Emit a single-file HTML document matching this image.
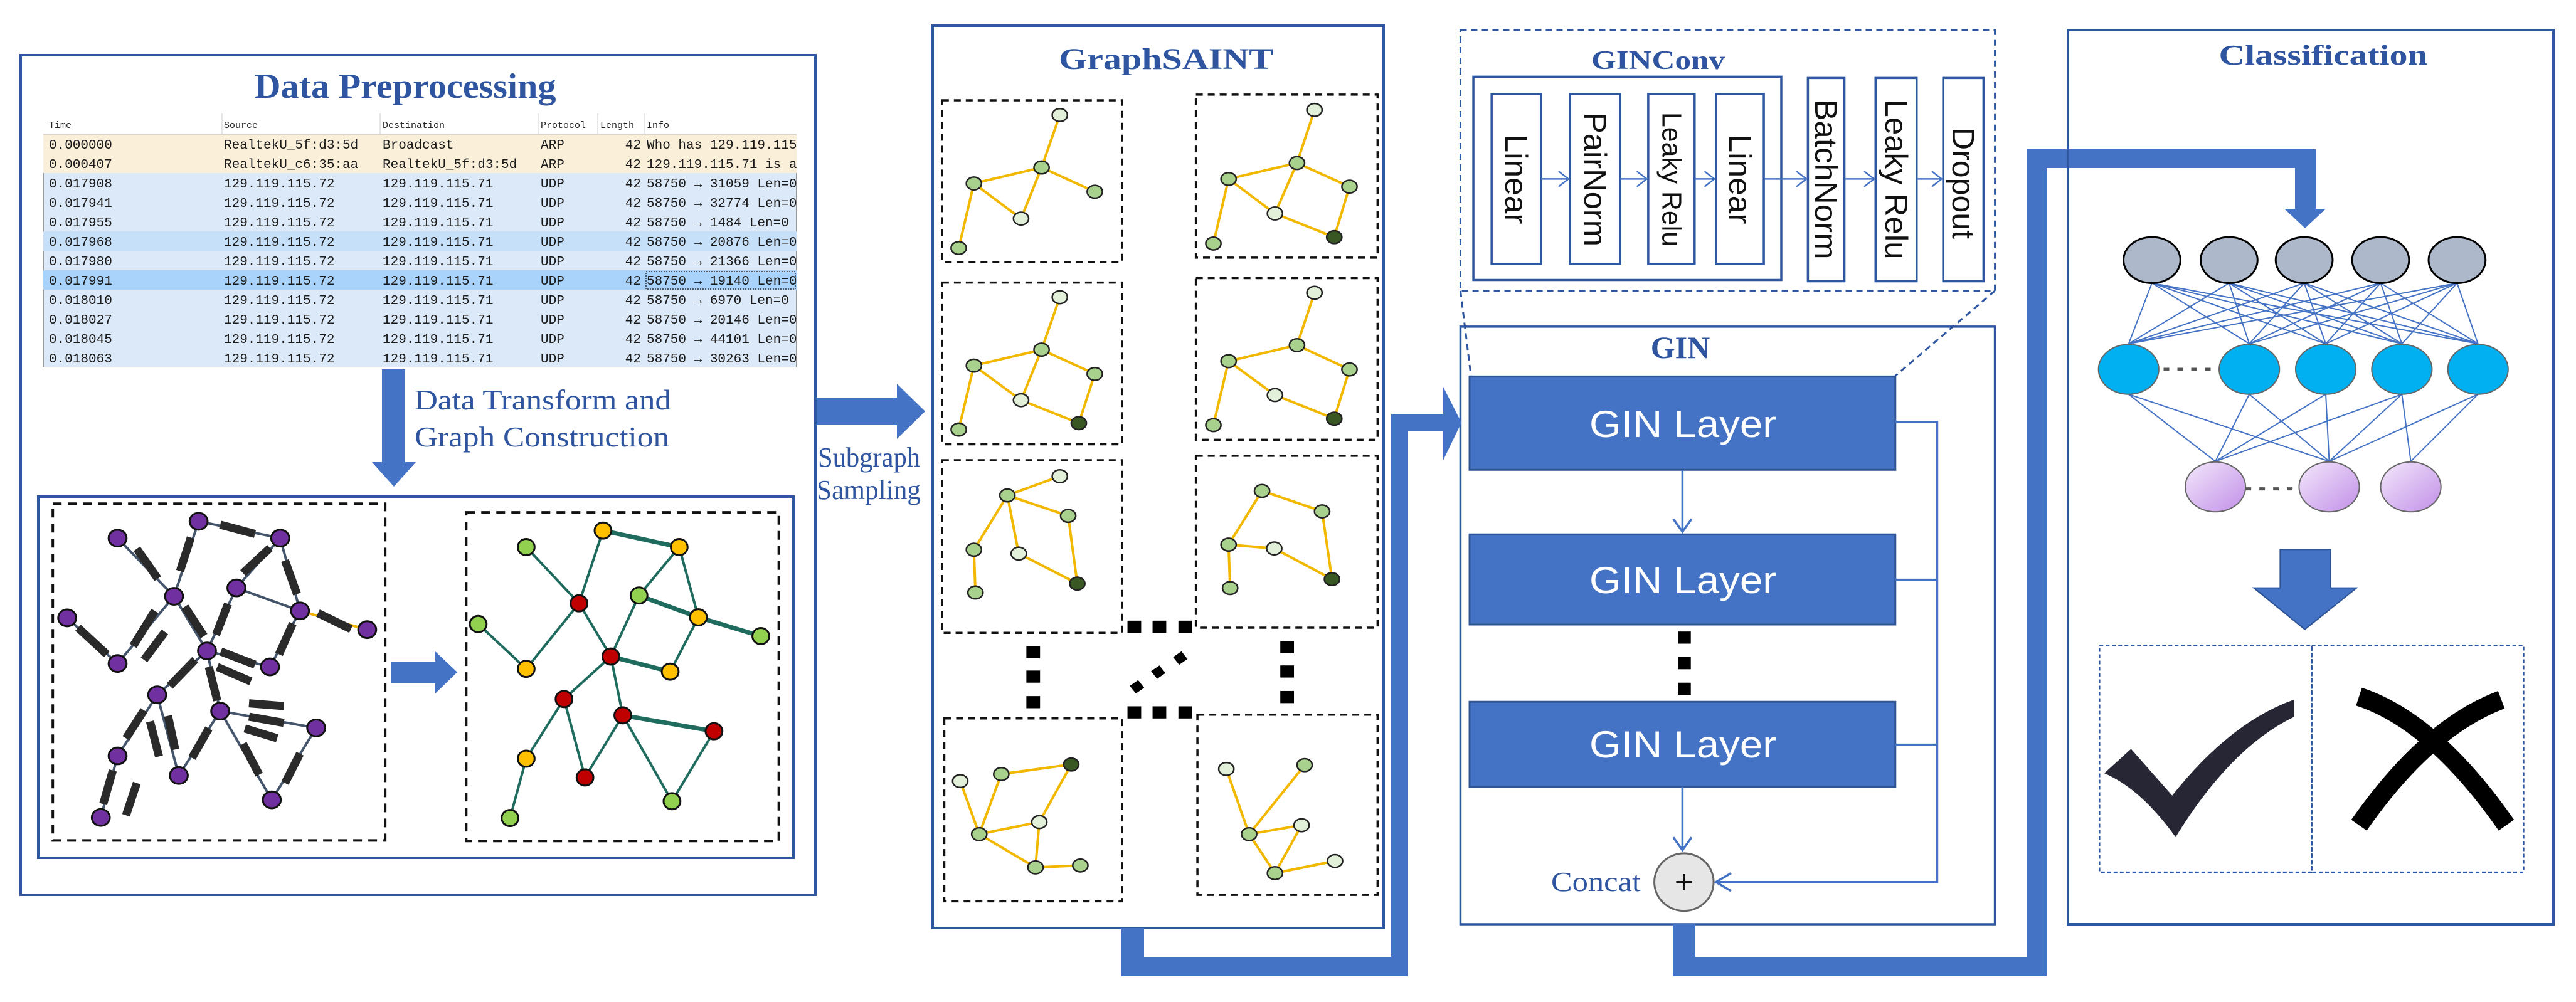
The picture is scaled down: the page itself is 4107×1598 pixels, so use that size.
<!DOCTYPE html>
<html><head><meta charset="utf-8"><style>
html,body{margin:0;padding:0;background:#fff;}
svg{display:block;}
.ser{font-family:"Liberation Serif",serif;}
.sans{font-family:"Liberation Sans",sans-serif;}
.mono{font-family:"Liberation Mono",monospace;}
</style></head><body>
<svg width="4107" height="1598" viewBox="0 0 4107 1598" xmlns="http://www.w3.org/2000/svg">
<defs>
<clipPath id="tc"><rect x="69" y="181" width="1201" height="405"/></clipPath>
<linearGradient id="pg" x1="0" y1="0" x2="1" y2="1"><stop offset="0" stop-color="#f3e8fb"/><stop offset="1" stop-color="#c28fe8"/></linearGradient>
</defs>

<!-- ===== Data Preprocessing ===== -->
<rect x="33" y="88" width="1267" height="1339" fill="none" stroke="#2f56a0" stroke-width="4"/>
<text x="646" y="156" class="ser" font-size="56" font-weight="bold" fill="#2f55a0" text-anchor="middle" textLength="481" lengthAdjust="spacingAndGlyphs">Data Preprocessing</text>

<g clip-path="url(#tc)">
<rect x="69" y="181" width="1201" height="405" fill="#dce9f8" stroke="#999" stroke-width="2"/>
<rect x="69" y="181" width="1201" height="33" fill="#fff"/>
<rect x="69" y="214" width="1201" height="62" fill="#faefd9"/>
<rect x="69" y="369" width="1201" height="31" fill="#c6e0fa"/>
<rect x="69" y="431" width="1201" height="31" fill="#a9d3fa"/>
<line x1="69" y1="214" x2="1270" y2="214" stroke="#bbb" stroke-width="1"/>
<g stroke="#ccc" stroke-width="1"><line x1="354" y1="181" x2="354" y2="214"/><line x1="606" y1="181" x2="606" y2="214"/><line x1="858" y1="181" x2="858" y2="214"/><line x1="953" y1="181" x2="953" y2="214"/><line x1="1027" y1="181" x2="1027" y2="214"/></g>
<g class="mono" font-size="15" fill="#222">
<text x="78" y="204">Time</text><text x="357" y="204">Source</text><text x="610" y="204">Destination</text><text x="862" y="204">Protocol</text><text x="957" y="204">Length</text><text x="1031" y="204">Info</text>
</g>
<g class="mono" font-size="21" fill="#1a1a1a">
<text x="78" y="237">0.000000</text><text x="357" y="237">RealtekU_5f:d3:5d</text><text x="610" y="237">Broadcast</text><text x="862" y="237">ARP</text><text x="1022" y="237" text-anchor="end">42</text><text x="1031" y="237">Who has 129.119.115.</text>
<text x="78" y="268">0.000407</text><text x="357" y="268">RealtekU_c6:35:aa</text><text x="610" y="268">RealtekU_5f:d3:5d</text><text x="862" y="268">ARP</text><text x="1022" y="268" text-anchor="end">42</text><text x="1031" y="268">129.119.115.71 is at</text>
<text x="78" y="299">0.017908</text><text x="357" y="299">129.119.115.72</text><text x="610" y="299">129.119.115.71</text><text x="862" y="299">UDP</text><text x="1022" y="299" text-anchor="end">42</text><text x="1031" y="299">58750 → 31059 Len=0</text>
<text x="78" y="330">0.017941</text><text x="357" y="330">129.119.115.72</text><text x="610" y="330">129.119.115.71</text><text x="862" y="330">UDP</text><text x="1022" y="330" text-anchor="end">42</text><text x="1031" y="330">58750 → 32774 Len=0</text>
<text x="78" y="361">0.017955</text><text x="357" y="361">129.119.115.72</text><text x="610" y="361">129.119.115.71</text><text x="862" y="361">UDP</text><text x="1022" y="361" text-anchor="end">42</text><text x="1031" y="361">58750 → 1484 Len=0</text>
<text x="78" y="392">0.017968</text><text x="357" y="392">129.119.115.72</text><text x="610" y="392">129.119.115.71</text><text x="862" y="392">UDP</text><text x="1022" y="392" text-anchor="end">42</text><text x="1031" y="392">58750 → 20876 Len=0</text>
<text x="78" y="423">0.017980</text><text x="357" y="423">129.119.115.72</text><text x="610" y="423">129.119.115.71</text><text x="862" y="423">UDP</text><text x="1022" y="423" text-anchor="end">42</text><text x="1031" y="423">58750 → 21366 Len=0</text>
<text x="78" y="454">0.017991</text><text x="357" y="454">129.119.115.72</text><text x="610" y="454">129.119.115.71</text><text x="862" y="454">UDP</text><text x="1022" y="454" text-anchor="end">42</text><text x="1031" y="454">58750 → 19140 Len=0</text>
<text x="78" y="485">0.018010</text><text x="357" y="485">129.119.115.72</text><text x="610" y="485">129.119.115.71</text><text x="862" y="485">UDP</text><text x="1022" y="485" text-anchor="end">42</text><text x="1031" y="485">58750 → 6970 Len=0</text>
<text x="78" y="516">0.018027</text><text x="357" y="516">129.119.115.72</text><text x="610" y="516">129.119.115.71</text><text x="862" y="516">UDP</text><text x="1022" y="516" text-anchor="end">42</text><text x="1031" y="516">58750 → 20146 Len=0</text>
<text x="78" y="547">0.018045</text><text x="357" y="547">129.119.115.72</text><text x="610" y="547">129.119.115.71</text><text x="862" y="547">UDP</text><text x="1022" y="547" text-anchor="end">42</text><text x="1031" y="547">58750 → 44101 Len=0</text>
<text x="78" y="578">0.018063</text><text x="357" y="578">129.119.115.72</text><text x="610" y="578">129.119.115.71</text><text x="862" y="578">UDP</text><text x="1022" y="578" text-anchor="end">42</text><text x="1031" y="578">58750 → 30263 Len=0</text>
</g>
<rect x="1030" y="433" width="238" height="28" fill="none" stroke="#333" stroke-width="1.5" stroke-dasharray="2 2"/>
</g>

<!-- down arrow -->
<rect x="609" y="589" width="37" height="150" fill="#4472c4"/>
<polygon points="593,737 663,737 628,776" fill="#4472c4"/>
<text x="661" y="653" class="ser" font-size="46" fill="#2f55a0" textLength="409" lengthAdjust="spacingAndGlyphs">Data Transform and</text>
<text x="661" y="712" class="ser" font-size="46" fill="#2f55a0" textLength="406" lengthAdjust="spacingAndGlyphs">Graph Construction</text>

<!-- inner graph box -->
<rect x="61" y="792" width="1204" height="576" fill="none" stroke="#2f56a0" stroke-width="4"/>
<g transform="translate(0,760) scale(0.9566,0.4464)">
<rect x="88" y="97" width="554" height="1203" fill="none" stroke="#111" stroke-width="4" stroke-dasharray="14 10" vector-effect="non-scaling-stroke"/>
<rect x="777" y="128" width="521" height="1174" fill="none" stroke="#111" stroke-width="4" stroke-dasharray="14 10" vector-effect="non-scaling-stroke"/>
<g stroke="#44546a" stroke-width="4" vector-effect="non-scaling-stroke" fill="none">
<line x1="331" y1="160" x2="467" y2="220" vector-effect="non-scaling-stroke"/>
<line x1="196" y1="220" x2="290" y2="428" vector-effect="non-scaling-stroke"/>
<line x1="331" y1="160" x2="290" y2="428" vector-effect="non-scaling-stroke"/>
<line x1="467" y1="220" x2="394" y2="398" vector-effect="non-scaling-stroke"/>
<line x1="467" y1="220" x2="500" y2="480" vector-effect="non-scaling-stroke"/>
<line x1="394" y1="398" x2="500" y2="480" vector-effect="non-scaling-stroke"/>
<line x1="290" y1="428" x2="345" y2="623" vector-effect="non-scaling-stroke"/>
<line x1="394" y1="398" x2="345" y2="623" vector-effect="non-scaling-stroke"/>
<line x1="500" y1="480" x2="450" y2="680" vector-effect="non-scaling-stroke"/>
<line x1="112" y1="505" x2="196" y2="668" vector-effect="non-scaling-stroke"/>
<line x1="290" y1="428" x2="196" y2="668" vector-effect="non-scaling-stroke"/>
<line x1="345" y1="623" x2="450" y2="680" vector-effect="non-scaling-stroke"/>
<line x1="345" y1="623" x2="262" y2="780" vector-effect="non-scaling-stroke"/>
<line x1="345" y1="623" x2="367" y2="838" vector-effect="non-scaling-stroke"/>
<line x1="262" y1="780" x2="196" y2="998" vector-effect="non-scaling-stroke"/>
<line x1="262" y1="780" x2="298" y2="1068" vector-effect="non-scaling-stroke"/>
<line x1="367" y1="838" x2="298" y2="1068" vector-effect="non-scaling-stroke"/>
<line x1="367" y1="838" x2="527" y2="898" vector-effect="non-scaling-stroke"/>
<line x1="367" y1="838" x2="453" y2="1155" vector-effect="non-scaling-stroke"/>
<line x1="527" y1="898" x2="453" y2="1155" vector-effect="non-scaling-stroke"/>
<line x1="196" y1="998" x2="168" y2="1218" vector-effect="non-scaling-stroke"/>
</g>
<line x1="500" y1="480" x2="612" y2="547" stroke="#f0b400" stroke-width="4" vector-effect="non-scaling-stroke"/>
<g stroke="#2a2a2a" stroke-width="13" vector-effect="non-scaling-stroke">
<line x1="367" y1="172" x2="425" y2="205" vector-effect="non-scaling-stroke"/>
<line x1="228" y1="258" x2="263" y2="365" vector-effect="non-scaling-stroke"/>
<line x1="318" y1="218" x2="300" y2="338" vector-effect="non-scaling-stroke"/>
<line x1="450" y1="255" x2="405" y2="345" vector-effect="non-scaling-stroke"/>
<line x1="475" y1="300" x2="495" y2="420" vector-effect="non-scaling-stroke"/>
<line x1="530" y1="488" x2="585" y2="545" vector-effect="non-scaling-stroke"/>
<line x1="380" y1="455" x2="360" y2="565" vector-effect="non-scaling-stroke"/>
<line x1="308" y1="465" x2="340" y2="570" vector-effect="non-scaling-stroke"/>
<line x1="488" y1="525" x2="465" y2="635" vector-effect="non-scaling-stroke"/>
<line x1="130" y1="540" x2="178" y2="635" vector-effect="non-scaling-stroke"/>
<line x1="258" y1="480" x2="222" y2="605" vector-effect="non-scaling-stroke"/>
<line x1="275" y1="555" x2="240" y2="655" vector-effect="non-scaling-stroke"/>
<line x1="368" y1="625" x2="425" y2="672" vector-effect="non-scaling-stroke"/>
<line x1="362" y1="680" x2="418" y2="732" vector-effect="non-scaling-stroke"/>
<line x1="325" y1="655" x2="283" y2="748" vector-effect="non-scaling-stroke"/>
<line x1="348" y1="680" x2="362" y2="800" vector-effect="non-scaling-stroke"/>
<line x1="240" y1="835" x2="210" y2="935" vector-effect="non-scaling-stroke"/>
<line x1="250" y1="875" x2="265" y2="1000" vector-effect="non-scaling-stroke"/>
<line x1="280" y1="855" x2="292" y2="975" vector-effect="non-scaling-stroke"/>
<line x1="348" y1="900" x2="320" y2="1005" vector-effect="non-scaling-stroke"/>
<line x1="415" y1="810" x2="473" y2="820" vector-effect="non-scaling-stroke"/>
<line x1="415" y1="858" x2="473" y2="880" vector-effect="non-scaling-stroke"/>
<line x1="408" y1="900" x2="462" y2="935" vector-effect="non-scaling-stroke"/>
<line x1="405" y1="955" x2="432" y2="1065" vector-effect="non-scaling-stroke"/>
<line x1="500" y1="990" x2="475" y2="1095" vector-effect="non-scaling-stroke"/>
<line x1="188" y1="1050" x2="172" y2="1170" vector-effect="non-scaling-stroke"/>
<line x1="228" y1="1095" x2="210" y2="1210" vector-effect="non-scaling-stroke"/>
</g>
<g fill="#7030a0" stroke="#111" stroke-width="3">
<ellipse cx="331" cy="160" rx="15" ry="30" vector-effect="non-scaling-stroke"/><ellipse cx="467" cy="220" rx="15" ry="30" vector-effect="non-scaling-stroke"/><ellipse cx="196" cy="220" rx="15" ry="30" vector-effect="non-scaling-stroke"/><ellipse cx="394" cy="398" rx="15" ry="30" vector-effect="non-scaling-stroke"/><ellipse cx="290" cy="428" rx="15" ry="30" vector-effect="non-scaling-stroke"/><ellipse cx="500" cy="480" rx="15" ry="30" vector-effect="non-scaling-stroke"/><ellipse cx="112" cy="505" rx="15" ry="30" vector-effect="non-scaling-stroke"/><ellipse cx="612" cy="547" rx="15" ry="30" vector-effect="non-scaling-stroke"/><ellipse cx="345" cy="623" rx="15" ry="30" vector-effect="non-scaling-stroke"/><ellipse cx="196" cy="668" rx="15" ry="30" vector-effect="non-scaling-stroke"/><ellipse cx="450" cy="680" rx="15" ry="30" vector-effect="non-scaling-stroke"/><ellipse cx="262" cy="780" rx="15" ry="30" vector-effect="non-scaling-stroke"/><ellipse cx="367" cy="838" rx="15" ry="30" vector-effect="non-scaling-stroke"/><ellipse cx="527" cy="898" rx="15" ry="30" vector-effect="non-scaling-stroke"/><ellipse cx="196" cy="998" rx="15" ry="30" vector-effect="non-scaling-stroke"/><ellipse cx="298" cy="1068" rx="15" ry="30" vector-effect="non-scaling-stroke"/><ellipse cx="453" cy="1155" rx="15" ry="30" vector-effect="non-scaling-stroke"/><ellipse cx="168" cy="1218" rx="15" ry="30" vector-effect="non-scaling-stroke"/>
</g>
<!-- right graph -->
<g stroke="#1f6b5e" stroke-width="4" fill="none">
<line x1="1005" y1="193" x2="1132" y2="252" stroke-width="7" vector-effect="non-scaling-stroke"/>
<line x1="1005" y1="193" x2="965" y2="453" vector-effect="non-scaling-stroke"/>
<line x1="877" y1="252" x2="965" y2="453" vector-effect="non-scaling-stroke"/>
<line x1="1132" y1="252" x2="1065" y2="425" vector-effect="non-scaling-stroke"/>
<line x1="1132" y1="252" x2="1164" y2="503" vector-effect="non-scaling-stroke"/>
<line x1="1065" y1="425" x2="1164" y2="503" stroke-width="7" vector-effect="non-scaling-stroke"/>
<line x1="1065" y1="425" x2="1018" y2="643" vector-effect="non-scaling-stroke"/>
<line x1="965" y1="453" x2="1018" y2="643" vector-effect="non-scaling-stroke"/>
<line x1="965" y1="453" x2="877" y2="687" vector-effect="non-scaling-stroke"/>
<line x1="797" y1="527" x2="877" y2="687" vector-effect="non-scaling-stroke"/>
<line x1="1164" y1="503" x2="1268" y2="570" stroke-width="7" vector-effect="non-scaling-stroke"/>
<line x1="1164" y1="503" x2="1117" y2="697" vector-effect="non-scaling-stroke"/>
<line x1="1018" y1="643" x2="1117" y2="697" stroke-width="7" vector-effect="non-scaling-stroke"/>
<line x1="1018" y1="643" x2="940" y2="795" vector-effect="non-scaling-stroke"/>
<line x1="1018" y1="643" x2="1038" y2="853" vector-effect="non-scaling-stroke"/>
<line x1="940" y1="795" x2="877" y2="1008" vector-effect="non-scaling-stroke"/>
<line x1="940" y1="795" x2="975" y2="1075" vector-effect="non-scaling-stroke"/>
<line x1="1038" y1="853" x2="975" y2="1075" vector-effect="non-scaling-stroke"/>
<line x1="1038" y1="853" x2="1190" y2="910" stroke-width="7" vector-effect="non-scaling-stroke"/>
<line x1="1038" y1="853" x2="1120" y2="1160" vector-effect="non-scaling-stroke"/>
<line x1="1190" y1="910" x2="1120" y2="1160" vector-effect="non-scaling-stroke"/>
<line x1="877" y1="1008" x2="850" y2="1220" vector-effect="non-scaling-stroke"/>
</g>
<g stroke="#111" stroke-width="3">
<ellipse cx="1005" cy="193" rx="14" ry="29" fill="#ffc000" vector-effect="non-scaling-stroke"/>
<ellipse cx="877" cy="252" rx="14" ry="29" fill="#92d050" vector-effect="non-scaling-stroke"/>
<ellipse cx="1132" cy="252" rx="14" ry="29" fill="#ffc000" vector-effect="non-scaling-stroke"/>
<ellipse cx="1065" cy="425" rx="14" ry="29" fill="#92d050" vector-effect="non-scaling-stroke"/>
<ellipse cx="965" cy="453" rx="14" ry="29" fill="#c00000" vector-effect="non-scaling-stroke"/>
<ellipse cx="797" cy="527" rx="14" ry="29" fill="#92d050" vector-effect="non-scaling-stroke"/>
<ellipse cx="1164" cy="503" rx="14" ry="29" fill="#ffc000" vector-effect="non-scaling-stroke"/>
<ellipse cx="1268" cy="570" rx="14" ry="29" fill="#92d050" vector-effect="non-scaling-stroke"/>
<ellipse cx="1018" cy="643" rx="14" ry="29" fill="#c00000" vector-effect="non-scaling-stroke"/>
<ellipse cx="877" cy="687" rx="14" ry="29" fill="#ffc000" vector-effect="non-scaling-stroke"/>
<ellipse cx="1117" cy="697" rx="14" ry="29" fill="#ffc000" vector-effect="non-scaling-stroke"/>
<ellipse cx="940" cy="795" rx="14" ry="29" fill="#c00000" vector-effect="non-scaling-stroke"/>
<ellipse cx="1038" cy="853" rx="14" ry="29" fill="#c00000" vector-effect="non-scaling-stroke"/>
<ellipse cx="1190" cy="910" rx="14" ry="29" fill="#c00000" vector-effect="non-scaling-stroke"/>
<ellipse cx="877" cy="1008" rx="14" ry="29" fill="#ffc000" vector-effect="non-scaling-stroke"/>
<ellipse cx="975" cy="1075" rx="14" ry="29" fill="#c00000" vector-effect="non-scaling-stroke"/>
<ellipse cx="1120" cy="1160" rx="14" ry="29" fill="#92d050" vector-effect="non-scaling-stroke"/>
<ellipse cx="850" cy="1220" rx="14" ry="29" fill="#92d050" vector-effect="non-scaling-stroke"/>
</g>
</g>
<!-- arrow between graphs -->
<rect x="624" y="1055" width="72" height="35" fill="#4472c4"/>
<polygon points="694,1039 729,1072 694,1106" fill="#4472c4"/>

<!-- subgraph sampling arrow -->
<rect x="1302" y="634" width="132" height="44" fill="#4472c4"/>
<polygon points="1430,612 1475,656 1430,700" fill="#4472c4"/>
<text x="1304" y="744" class="ser" font-size="44" fill="#2f55a0" textLength="163" lengthAdjust="spacingAndGlyphs">Subgraph</text>
<text x="1302" y="796" class="ser" font-size="44" fill="#2f55a0" textLength="166" lengthAdjust="spacingAndGlyphs">Sampling</text>

<!-- ===== GraphSAINT ===== -->
<rect x="1487" y="41" width="719" height="1439" fill="none" stroke="#2f56a0" stroke-width="4"/>
<text x="1859" y="110" class="ser" font-size="48" font-weight="bold" fill="#2f55a0" text-anchor="middle" textLength="342" lengthAdjust="spacingAndGlyphs">GraphSAINT</text>

<g transform="translate(1400,0) scale(1.2121,1.0194)">
<g fill="none" stroke="#111" stroke-width="3.5" stroke-dasharray="11 8">
<rect x="84" y="157" width="237" height="253" vector-effect="non-scaling-stroke"/>
<rect x="418" y="148" width="239" height="255" vector-effect="non-scaling-stroke"/>
<rect x="84" y="442" width="237" height="253" vector-effect="non-scaling-stroke"/>
<rect x="418" y="435" width="239" height="253" vector-effect="non-scaling-stroke"/>
<rect x="84" y="720" width="237" height="270" vector-effect="non-scaling-stroke"/>
<rect x="418" y="713" width="239" height="269" vector-effect="non-scaling-stroke"/>
<rect x="87" y="1124" width="234" height="286" vector-effect="non-scaling-stroke"/>
<rect x="420" y="1118" width="237" height="282" vector-effect="non-scaling-stroke"/>
</g>
<g fill="#000">
<rect x="328" y="971" width="18" height="19"/><rect x="361" y="971" width="18" height="19"/><rect x="395" y="971" width="18" height="19"/>
<rect x="328" y="1105" width="18" height="19"/><rect x="361" y="1105" width="18" height="19"/><rect x="395" y="1105" width="18" height="19"/>
<rect x="195" y="1011" width="18" height="19"/><rect x="195" y="1049" width="18" height="19"/><rect x="195" y="1089" width="18" height="19"/>
<rect x="529" y="1003" width="18" height="19"/><rect x="529" y="1041" width="18" height="19"/><rect x="529" y="1081" width="18" height="19"/>
<polygon points="331,1073 342,1064 350,1076 339,1085"/><polygon points="359,1050 370,1041 378,1053 367,1062"/><polygon points="388,1028 399,1019 407,1031 396,1040"/>
</g>
<g stroke="#f2b800" stroke-width="4" fill="none">
<!-- A -->
<polyline points="239,180 215,262 126,287 106,388" vector-effect="non-scaling-stroke"/>
<polyline points="215,262 285,300" vector-effect="non-scaling-stroke"/>
<polyline points="126,287 188,342 215,262" vector-effect="non-scaling-stroke"/>
<!-- B -->
<polyline points="574,172 551,255 461,280 441,381" vector-effect="non-scaling-stroke"/>
<polyline points="551,255 620,292 600,371 522,334 461,280" vector-effect="non-scaling-stroke"/>
<polyline points="551,255 522,334" vector-effect="non-scaling-stroke"/>
<!-- C -->
<polyline points="239,465 215,547 126,572 106,672" vector-effect="non-scaling-stroke"/>
<polyline points="215,547 285,585 264,662 188,626 126,572" vector-effect="non-scaling-stroke"/>
<polyline points="215,547 188,626" vector-effect="non-scaling-stroke"/>
<!-- D -->
<polyline points="574,458 551,540 461,565 441,665" vector-effect="non-scaling-stroke"/>
<polyline points="551,540 620,578 600,655 522,618 461,565" vector-effect="non-scaling-stroke"/>
<!-- E -->
<polyline points="239,745 170,775 250,807 262,913 185,866 170,775 126,860 128,927" vector-effect="non-scaling-stroke"/>
<!-- F -->
<polyline points="584,800 505,768 461,852 521,858 597,906 584,800" vector-effect="non-scaling-stroke"/>
<polyline points="461,852 463,920" vector-effect="non-scaling-stroke"/>
<!-- G -->
<polyline points="108,1222 133,1305 162,1211 254,1196 212,1286 133,1305 207,1357 266,1354" vector-effect="non-scaling-stroke"/>
<polyline points="212,1286 207,1357" vector-effect="non-scaling-stroke"/>
<!-- H -->
<polyline points="458,1203 488,1305 561,1197" vector-effect="non-scaling-stroke"/>
<polyline points="488,1305 557,1291 522,1366 488,1305" vector-effect="non-scaling-stroke"/>
<polyline points="522,1366 601,1347" vector-effect="non-scaling-stroke"/>
</g>
<g stroke="#222" stroke-width="2.5">
<g fill="#e2f0d9">
<ellipse cx="239" cy="180" rx="10" ry="10" vector-effect="non-scaling-stroke"/><ellipse cx="188" cy="342" rx="10" ry="10" vector-effect="non-scaling-stroke"/>
<ellipse cx="574" cy="172" rx="10" ry="10" vector-effect="non-scaling-stroke"/><ellipse cx="522" cy="334" rx="10" ry="10" vector-effect="non-scaling-stroke"/>
<ellipse cx="239" cy="465" rx="10" ry="10" vector-effect="non-scaling-stroke"/><ellipse cx="188" cy="626" rx="10" ry="10" vector-effect="non-scaling-stroke"/>
<ellipse cx="574" cy="458" rx="10" ry="10" vector-effect="non-scaling-stroke"/><ellipse cx="522" cy="618" rx="10" ry="10" vector-effect="non-scaling-stroke"/>
<ellipse cx="239" cy="745" rx="10" ry="10" vector-effect="non-scaling-stroke"/><ellipse cx="185" cy="866" rx="10" ry="10" vector-effect="non-scaling-stroke"/>
<ellipse cx="521" cy="858" rx="10" ry="10" vector-effect="non-scaling-stroke"/>
<ellipse cx="108" cy="1222" rx="10" ry="10" vector-effect="non-scaling-stroke"/><ellipse cx="212" cy="1286" rx="10" ry="10" vector-effect="non-scaling-stroke"/>
<ellipse cx="458" cy="1203" rx="10" ry="10" vector-effect="non-scaling-stroke"/><ellipse cx="557" cy="1291" rx="10" ry="10" vector-effect="non-scaling-stroke"/><ellipse cx="601" cy="1347" rx="10" ry="10" vector-effect="non-scaling-stroke"/>
</g>
<g fill="#a9d18e">
<ellipse cx="215" cy="262" rx="10" ry="10" vector-effect="non-scaling-stroke"/><ellipse cx="126" cy="287" rx="10" ry="10" vector-effect="non-scaling-stroke"/><ellipse cx="285" cy="300" rx="10" ry="10" vector-effect="non-scaling-stroke"/><ellipse cx="106" cy="388" rx="10" ry="10" vector-effect="non-scaling-stroke"/>
<ellipse cx="551" cy="255" rx="10" ry="10" vector-effect="non-scaling-stroke"/><ellipse cx="461" cy="280" rx="10" ry="10" vector-effect="non-scaling-stroke"/><ellipse cx="620" cy="292" rx="10" ry="10" vector-effect="non-scaling-stroke"/><ellipse cx="441" cy="381" rx="10" ry="10" vector-effect="non-scaling-stroke"/>
<ellipse cx="215" cy="547" rx="10" ry="10" vector-effect="non-scaling-stroke"/><ellipse cx="126" cy="572" rx="10" ry="10" vector-effect="non-scaling-stroke"/><ellipse cx="285" cy="585" rx="10" ry="10" vector-effect="non-scaling-stroke"/><ellipse cx="106" cy="672" rx="10" ry="10" vector-effect="non-scaling-stroke"/>
<ellipse cx="551" cy="540" rx="10" ry="10" vector-effect="non-scaling-stroke"/><ellipse cx="461" cy="565" rx="10" ry="10" vector-effect="non-scaling-stroke"/><ellipse cx="620" cy="578" rx="10" ry="10" vector-effect="non-scaling-stroke"/><ellipse cx="441" cy="665" rx="10" ry="10" vector-effect="non-scaling-stroke"/>
<ellipse cx="170" cy="775" rx="10" ry="10" vector-effect="non-scaling-stroke"/><ellipse cx="250" cy="807" rx="10" ry="10" vector-effect="non-scaling-stroke"/><ellipse cx="126" cy="860" rx="10" ry="10" vector-effect="non-scaling-stroke"/><ellipse cx="128" cy="927" rx="10" ry="10" vector-effect="non-scaling-stroke"/>
<ellipse cx="505" cy="768" rx="10" ry="10" vector-effect="non-scaling-stroke"/><ellipse cx="584" cy="800" rx="10" ry="10" vector-effect="non-scaling-stroke"/><ellipse cx="461" cy="852" rx="10" ry="10" vector-effect="non-scaling-stroke"/><ellipse cx="463" cy="920" rx="10" ry="10" vector-effect="non-scaling-stroke"/>
<ellipse cx="162" cy="1211" rx="10" ry="10" vector-effect="non-scaling-stroke"/><ellipse cx="133" cy="1305" rx="10" ry="10" vector-effect="non-scaling-stroke"/><ellipse cx="207" cy="1357" rx="10" ry="10" vector-effect="non-scaling-stroke"/><ellipse cx="266" cy="1354" rx="10" ry="10" vector-effect="non-scaling-stroke"/>
<ellipse cx="561" cy="1197" rx="10" ry="10" vector-effect="non-scaling-stroke"/><ellipse cx="488" cy="1305" rx="10" ry="10" vector-effect="non-scaling-stroke"/><ellipse cx="522" cy="1366" rx="10" ry="10" vector-effect="non-scaling-stroke"/>
</g>
<g fill="#385723">
<ellipse cx="600" cy="371" rx="10" ry="10" vector-effect="non-scaling-stroke"/><ellipse cx="264" cy="662" rx="10" ry="10" vector-effect="non-scaling-stroke"/><ellipse cx="600" cy="655" rx="10" ry="10" vector-effect="non-scaling-stroke"/><ellipse cx="262" cy="913" rx="10" ry="10" vector-effect="non-scaling-stroke"/><ellipse cx="597" cy="906" rx="10" ry="10" vector-effect="non-scaling-stroke"/><ellipse cx="254" cy="1196" rx="10" ry="10" vector-effect="non-scaling-stroke"/>
</g>
</g>

<!-- GINConv -->
<rect x="766" y="47" width="703" height="408" fill="none" stroke="#2f56a0" stroke-width="3" stroke-dasharray="10 7" vector-effect="non-scaling-stroke"/>
<rect x="783" y="120" width="405" height="318" fill="none" stroke="#2f56a0" stroke-width="3.5" vector-effect="non-scaling-stroke"/>
<g fill="#fff" stroke="#2f56a0" stroke-width="3.5">
<rect x="807" y="147" width="65" height="266" vector-effect="non-scaling-stroke"/>
<rect x="910" y="147" width="66" height="266" vector-effect="non-scaling-stroke"/>
<rect x="1013" y="147" width="61" height="266" vector-effect="non-scaling-stroke"/>
<rect x="1102" y="147" width="63" height="266" vector-effect="non-scaling-stroke"/>
<rect x="1223" y="122" width="48" height="318" vector-effect="non-scaling-stroke"/>
<rect x="1312" y="122" width="54" height="318" vector-effect="non-scaling-stroke"/>
<rect x="1401" y="122" width="53" height="318" vector-effect="non-scaling-stroke"/>
</g>
<g stroke="#4472c4" stroke-width="2.5" fill="none">
<line x1="872" y1="280" x2="908" y2="280" vector-effect="non-scaling-stroke"/><polyline points="895,268 908,280 895,292" vector-effect="non-scaling-stroke"/>
<line x1="976" y1="280" x2="1011" y2="280" vector-effect="non-scaling-stroke"/><polyline points="998,268 1011,280 998,292" vector-effect="non-scaling-stroke"/>
<line x1="1074" y1="280" x2="1100" y2="280" vector-effect="non-scaling-stroke"/><polyline points="1087,268 1100,280 1087,292" vector-effect="non-scaling-stroke"/>
<line x1="1165" y1="280" x2="1221" y2="280" vector-effect="non-scaling-stroke"/><polyline points="1208,268 1221,280 1208,292" vector-effect="non-scaling-stroke"/>
<line x1="1271" y1="280" x2="1310" y2="280" vector-effect="non-scaling-stroke"/><polyline points="1297,268 1310,280 1297,292" vector-effect="non-scaling-stroke"/>
<line x1="1366" y1="280" x2="1399" y2="280" vector-effect="non-scaling-stroke"/><polyline points="1386,268 1399,280 1386,292" vector-effect="non-scaling-stroke"/>
</g>
<g stroke="#2f56a0" stroke-width="3" stroke-dasharray="10 7" fill="none">
<line x1="766" y1="455" x2="780" y2="590" vector-effect="non-scaling-stroke"/>
<line x1="1469" y1="455" x2="1338" y2="588" vector-effect="non-scaling-stroke"/>
</g>

<!-- GIN -->
<rect x="766" y="511" width="703" height="935" fill="none" stroke="#2f56a0" stroke-width="3.5" vector-effect="non-scaling-stroke"/>
<g fill="#4472c4" stroke="#2f5597" stroke-width="3">
<rect x="778" y="589" width="560" height="146" vector-effect="non-scaling-stroke"/>
<rect x="778" y="836" width="560" height="141" vector-effect="non-scaling-stroke"/>
<rect x="778" y="1098" width="560" height="133" vector-effect="non-scaling-stroke"/>
</g>
<g stroke="#4472c4" stroke-width="3.5" fill="none">
<line x1="1058" y1="735" x2="1058" y2="832" vector-effect="non-scaling-stroke"/><polyline points="1046,812 1058,832 1070,812" vector-effect="non-scaling-stroke"/>
<line x1="1058" y1="1231" x2="1058" y2="1330" vector-effect="non-scaling-stroke"/><polyline points="1046,1310 1058,1330 1070,1310" vector-effect="non-scaling-stroke"/>
<polyline points="1338,660 1393,660 1393,1380 1102,1380" vector-effect="non-scaling-stroke"/>
<line x1="1338" y1="907" x2="1393" y2="907" vector-effect="non-scaling-stroke"/>
<line x1="1338" y1="1165" x2="1393" y2="1165" vector-effect="non-scaling-stroke"/>
<polyline points="1122,1366 1102,1380 1122,1394" vector-effect="non-scaling-stroke"/>
</g>
<g fill="#000"><rect x="1052" y="988" width="17" height="19"/><rect x="1052" y="1028" width="17" height="19"/><rect x="1052" y="1068" width="17" height="19"/></g>
<ellipse cx="1060" cy="1380" rx="39" ry="45" fill="#e6e6e6" stroke="#666" stroke-width="3" vector-effect="non-scaling-stroke"/>
</g>

<text x="2537" y="110" class="ser" font-size="42" font-weight="bold" fill="#2f55a0" textLength="213" lengthAdjust="spacingAndGlyphs">GINConv</text>
<g class="sans" font-size="50" fill="#111">
<text transform="translate(2417,286) rotate(90)" text-anchor="middle" dominant-baseline="central" textLength="143" lengthAdjust="spacingAndGlyphs">Linear</text>
<text transform="translate(2543,286) rotate(90)" text-anchor="middle" dominant-baseline="central" textLength="214" lengthAdjust="spacingAndGlyphs">PairNorm</text>
<text transform="translate(2665,286) rotate(90)" text-anchor="middle" dominant-baseline="central" textLength="214" lengthAdjust="spacingAndGlyphs" font-size="44">Leaky Relu</text>
<text transform="translate(2774,286) rotate(90)" text-anchor="middle" dominant-baseline="central" textLength="143" lengthAdjust="spacingAndGlyphs">Linear</text>
<text transform="translate(2911,286) rotate(90)" text-anchor="middle" dominant-baseline="central" textLength="255" lengthAdjust="spacingAndGlyphs">BatchNorm</text>
<text transform="translate(3023,286) rotate(90)" text-anchor="middle" dominant-baseline="central" textLength="255" lengthAdjust="spacingAndGlyphs">Leaky Relu</text>
<text transform="translate(3130,292) rotate(90)" text-anchor="middle" dominant-baseline="central" textLength="178" lengthAdjust="spacingAndGlyphs">Dropout</text>
</g>
<text x="2679" y="571" class="ser" font-size="50" font-weight="bold" fill="#2f55a0" text-anchor="middle">GIN</text>
<g class="sans" font-size="60" fill="#fff" text-anchor="middle">
<text x="2683" y="697" textLength="298" lengthAdjust="spacingAndGlyphs">GIN Layer</text>
<text x="2683" y="946" textLength="298" lengthAdjust="spacingAndGlyphs">GIN Layer</text>
<text x="2683" y="1208" textLength="298" lengthAdjust="spacingAndGlyphs">GIN Layer</text>
</g>
<text x="2685" y="1424" class="sans" font-size="52" fill="#111" text-anchor="middle">+</text>
<text x="2616" y="1421" class="ser" font-size="44" fill="#2f55a0" text-anchor="end" textLength="143" lengthAdjust="spacingAndGlyphs">Concat</text>

<!-- thick connectors -->
<g fill="#4472c4">
<rect x="1788" y="1480" width="36" height="77"/>
<rect x="1788" y="1526" width="457" height="31"/>
<rect x="2218" y="660" width="27" height="897"/>
<rect x="2218" y="660" width="85" height="28"/>
<polygon points="2301,617 2330,674 2301,734"/>
<rect x="2667" y="1474" width="36" height="83"/>
<rect x="2667" y="1526" width="596" height="31"/>
<rect x="3232" y="238" width="31" height="1319"/>
<rect x="3232" y="238" width="460" height="30"/>
<rect x="3659" y="238" width="33" height="96"/>
<polygon points="3642,333 3708,333 3675,364"/>
</g>

<!-- ===== Classification ===== -->
<rect x="3297" y="48" width="774" height="1426" fill="none" stroke="#2f56a0" stroke-width="4"/>
<text x="3704" y="103" class="ser" font-size="46" font-weight="bold" fill="#2f55a0" text-anchor="middle" textLength="333" lengthAdjust="spacingAndGlyphs">Classification</text>
<g transform="translate(3250,0) scale(0.5466,1.0191)">
<g stroke="#4472c4" stroke-width="2" vector-effect="non-scaling-stroke">
<g id="l1">
<line x1="331" y1="443" x2="263" y2="538" vector-effect="non-scaling-stroke"/><line x1="331" y1="443" x2="615" y2="538" vector-effect="non-scaling-stroke"/><line x1="331" y1="443" x2="838" y2="538" vector-effect="non-scaling-stroke"/><line x1="331" y1="443" x2="1060" y2="538" vector-effect="non-scaling-stroke"/><line x1="331" y1="443" x2="1282" y2="538" vector-effect="non-scaling-stroke"/>
<line x1="556" y1="443" x2="263" y2="538" vector-effect="non-scaling-stroke"/><line x1="556" y1="443" x2="615" y2="538" vector-effect="non-scaling-stroke"/><line x1="556" y1="443" x2="838" y2="538" vector-effect="non-scaling-stroke"/><line x1="556" y1="443" x2="1060" y2="538" vector-effect="non-scaling-stroke"/><line x1="556" y1="443" x2="1282" y2="538" vector-effect="non-scaling-stroke"/>
<line x1="775" y1="443" x2="263" y2="538" vector-effect="non-scaling-stroke"/><line x1="775" y1="443" x2="615" y2="538" vector-effect="non-scaling-stroke"/><line x1="775" y1="443" x2="838" y2="538" vector-effect="non-scaling-stroke"/><line x1="775" y1="443" x2="1060" y2="538" vector-effect="non-scaling-stroke"/><line x1="775" y1="443" x2="1282" y2="538" vector-effect="non-scaling-stroke"/>
<line x1="998" y1="443" x2="263" y2="538" vector-effect="non-scaling-stroke"/><line x1="998" y1="443" x2="615" y2="538" vector-effect="non-scaling-stroke"/><line x1="998" y1="443" x2="838" y2="538" vector-effect="non-scaling-stroke"/><line x1="998" y1="443" x2="1060" y2="538" vector-effect="non-scaling-stroke"/><line x1="998" y1="443" x2="1282" y2="538" vector-effect="non-scaling-stroke"/>
<line x1="1221" y1="443" x2="263" y2="538" vector-effect="non-scaling-stroke"/><line x1="1221" y1="443" x2="615" y2="538" vector-effect="non-scaling-stroke"/><line x1="1221" y1="443" x2="838" y2="538" vector-effect="non-scaling-stroke"/><line x1="1221" y1="443" x2="1060" y2="538" vector-effect="non-scaling-stroke"/><line x1="1221" y1="443" x2="1282" y2="538" vector-effect="non-scaling-stroke"/>
</g>
<line x1="263" y1="617" x2="516" y2="722" vector-effect="non-scaling-stroke"/><line x1="263" y1="617" x2="848" y2="722" vector-effect="non-scaling-stroke"/>
<line x1="615" y1="617" x2="516" y2="722" vector-effect="non-scaling-stroke"/><line x1="615" y1="617" x2="848" y2="722" vector-effect="non-scaling-stroke"/>
<line x1="838" y1="617" x2="516" y2="722" vector-effect="non-scaling-stroke"/><line x1="838" y1="617" x2="848" y2="722" vector-effect="non-scaling-stroke"/>
<line x1="1060" y1="617" x2="516" y2="722" vector-effect="non-scaling-stroke"/><line x1="1060" y1="617" x2="848" y2="722" vector-effect="non-scaling-stroke"/><line x1="1060" y1="617" x2="1086" y2="722" vector-effect="non-scaling-stroke"/>
<line x1="1282" y1="617" x2="848" y2="722" vector-effect="non-scaling-stroke"/><line x1="1282" y1="617" x2="1086" y2="722" vector-effect="non-scaling-stroke"/>
</g>
<g fill="#adb9ca" stroke="#000" stroke-width="3">
<ellipse cx="331" cy="407" rx="83" ry="36" vector-effect="non-scaling-stroke"/><ellipse cx="556" cy="407" rx="83" ry="36" vector-effect="non-scaling-stroke"/><ellipse cx="775" cy="407" rx="83" ry="36" vector-effect="non-scaling-stroke"/><ellipse cx="998" cy="407" rx="83" ry="36" vector-effect="non-scaling-stroke"/><ellipse cx="1221" cy="407" rx="83" ry="36" vector-effect="non-scaling-stroke"/>
</g>
<g fill="#00b0f0" stroke="#666" stroke-width="2">
<ellipse cx="263" cy="578" rx="88" ry="39" vector-effect="non-scaling-stroke"/><ellipse cx="615" cy="578" rx="88" ry="39" vector-effect="non-scaling-stroke"/><ellipse cx="838" cy="578" rx="88" ry="39" vector-effect="non-scaling-stroke"/><ellipse cx="1060" cy="578" rx="88" ry="39" vector-effect="non-scaling-stroke"/><ellipse cx="1282" cy="578" rx="88" ry="39" vector-effect="non-scaling-stroke"/>
</g>
<g fill="url(#pg)" stroke="#666" stroke-width="2">
<ellipse cx="516" cy="762" rx="88" ry="39" vector-effect="non-scaling-stroke"/><ellipse cx="848" cy="762" rx="88" ry="39" vector-effect="non-scaling-stroke"/><ellipse cx="1086" cy="762" rx="88" ry="39" vector-effect="non-scaling-stroke"/>
</g>
<g stroke="#555" stroke-width="5" stroke-dasharray="9 13">
<line x1="365" y1="578" x2="527" y2="578" vector-effect="non-scaling-stroke"/>
<line x1="604" y1="765" x2="760" y2="765" vector-effect="non-scaling-stroke"/>
</g>
<polygon points="705,860 852,860 852,920 928,920 777,985 628,920 705,920" fill="#4472c4" stroke="#2f5597" stroke-width="2" vector-effect="non-scaling-stroke"/>
<g fill="none" stroke="#2f56a0" stroke-width="2.5" stroke-dasharray="6 4">
<rect x="178" y="1010" width="619" height="355" vector-effect="non-scaling-stroke"/>
<rect x="797" y="1010" width="618" height="355" vector-effect="non-scaling-stroke"/>
</g>
<path d="M192,1210 L270,1172 L390,1245 Q560,1130 745,1095 L745,1122 Q560,1170 400,1310 Q300,1235 192,1210 Z" fill="#262635"/>
</g>
<g stroke="#000" stroke-width="30" fill="none" stroke-linecap="butt">
<path d="M3761,1111 Q3880,1150 3996,1316"/>
<path d="M3988,1116 Q3870,1160 3761,1316"/>
</g>
</svg>
</body></html>
